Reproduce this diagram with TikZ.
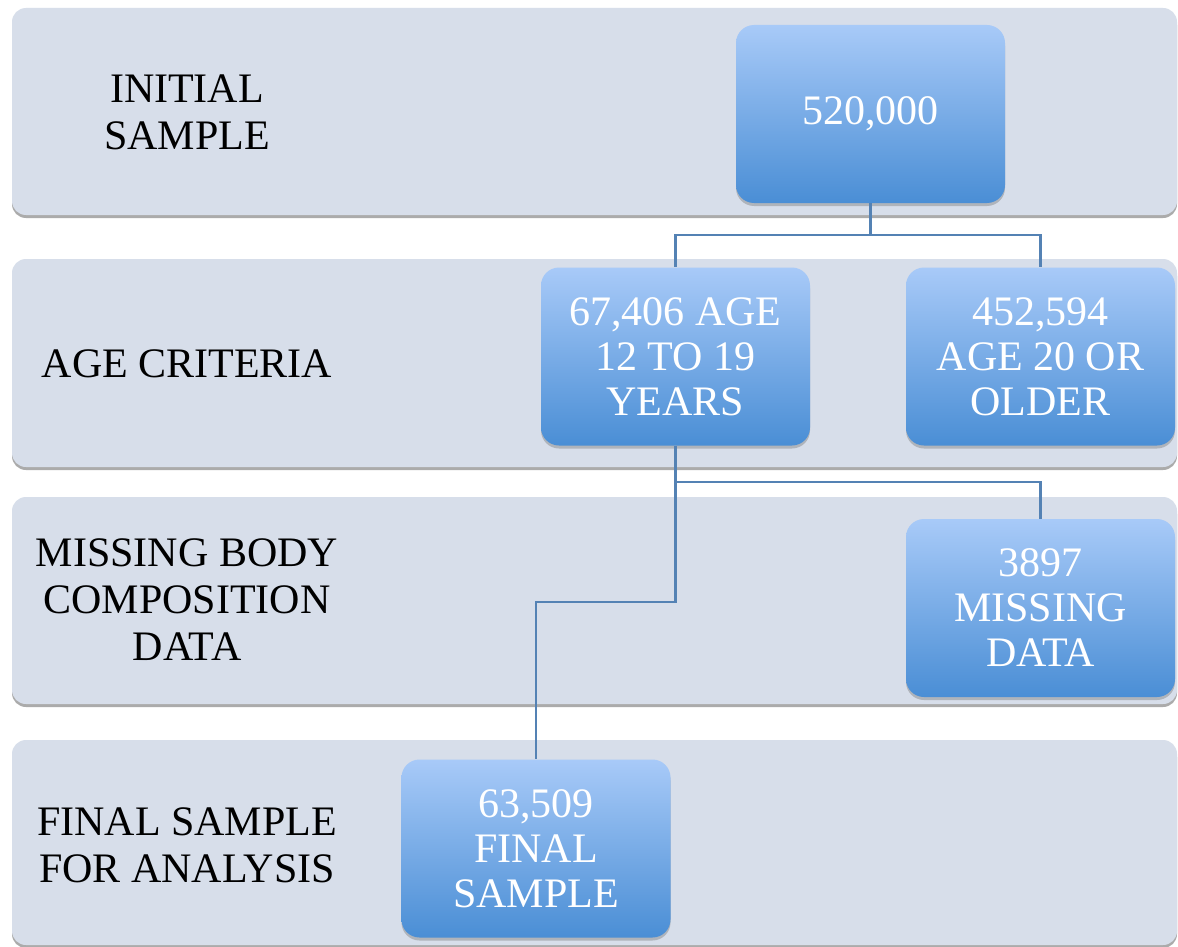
\documentclass[tikz,border=0pt]{standalone}
\usepackage{fontspec}
\setmainfont{Liberation Serif}
\usetikzlibrary{shadows}
\definecolor{bandfill}{HTML}{D7DEEA}
\definecolor{boxtop}{HTML}{A8CAF8}
\definecolor{boxbot}{HTML}{4A8ED5}
\definecolor{linkc}{HTML}{5482B4}
\tikzset{
  band/.style={fill=bandfill, rounded corners=14pt, draw=none,
    drop shadow={shadow xshift=0pt, shadow yshift=-3pt, opacity=0.5, fill=black!65}},
  box/.style={rounded corners=18pt, top color=boxtop, bottom color=boxbot, draw=none,
    minimum width=269pt, minimum height=178pt, text=white, align=center,
    font=\fontsize{42}{45}\selectfont,
    drop shadow={shadow xshift=0pt, shadow yshift=-3pt, opacity=0.35, fill=black!60}},
  lab/.style={align=center, text=black, font=\fontsize{42}{47}\selectfont},
  link/.style={draw=linkc, line width=2.2pt}
}
\begin{document}
\begin{tikzpicture}[x=1pt,y=-1pt]
\useasboundingbox[fill=white] (0,0) rectangle (1178,947);
% bands
\path[band] (12,8) rectangle (1177,215);
\path[band] (12,259) rectangle (1177,467);
\path[band] (12,497) rectangle (1177,704);
\path[band] (12,740) rectangle (1177,945);
% labels
\node[lab] (l1) at (187,112) {INITIAL\\SAMPLE};
\node[lab] (l2) at (187,364) {AGE CRITERIA};
\node[lab] (l3) at (187,600) {MISSING BODY\\COMPOSITION\\DATA};
\node[lab] (l4) at (187,845) {FINAL SAMPLE\\FOR ANALYSIS};
% boxes
\node[box] (b1) at (870.5,114) {520,000};
\node[box] (b2) at (675.5,356.5) {67,406 AGE\\12 TO 19\\YEARS};
\node[box] (b3) at (1040.5,356.5) {452,594\\AGE 20 OR\\OLDER};
\node[box] (b4) at (1040.5,608) {3897\\MISSING\\DATA};
\node[box] (b5) at (536,848.5) {63,509\\FINAL\\SAMPLE};
% connectors
\coordinate (j1) at (870.5,235);
\draw[link] (b1.south) -- (j1);
\draw[link] (j1) -| (b2.north);
\draw[link] (j1) -| (b3.north);
\coordinate (j2) at (675.5,482);
\draw[link] (b2.south) -- (j2) -| (b4.north);
\draw[link] (j2) |- (536,602) -- (b5.north);
\end{tikzpicture}
\end{document}
